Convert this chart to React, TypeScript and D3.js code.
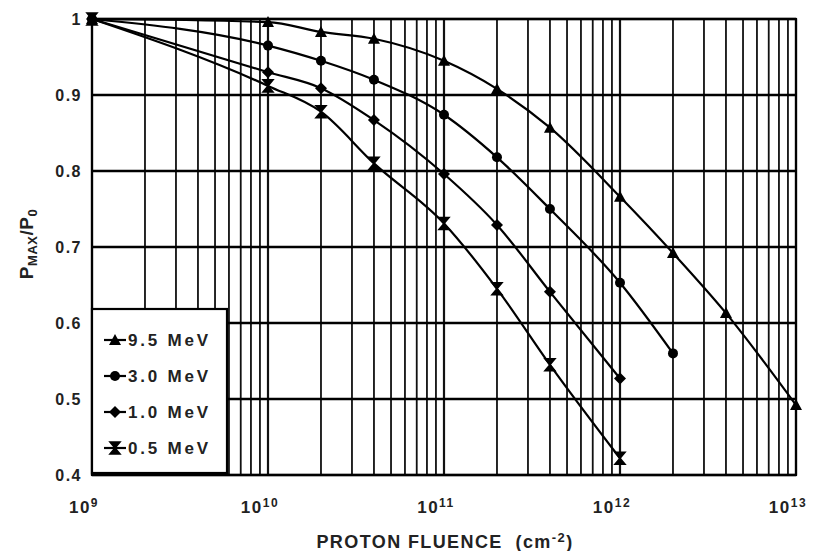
import * as d3 from "d3"

// proton fluence (cm-2) at which Pmax/P0 was measured
const fluence = [1e9, 1e10, 2e10, 4e10, 1e11, 2e11, 4e11, 1e12, 2e12, 4e12, 1e13]

const mev95 = [1.0, 0.996, 0.983, 0.974, 0.945, 0.908, 0.857, 0.766, 0.692, 0.613, 0.492]
const mev30 = [1.0, 0.965, 0.945, 0.92, 0.874, 0.818, 0.75, 0.653, 0.56]
const mev10 = [1.0, 0.93, 0.909, 0.867, 0.796, 0.729, 0.641, 0.527]
const mev05 = [1.0, 0.912, 0.878, 0.81, 0.731, 0.645, 0.545, 0.422]

const seriesNames = ["9.5 MeV", "3.0 MeV", "1.0 MeV", "0.5 MeV"]
const seriesValues = [mev95, mev30, mev10, mev05]
const markerKinds = ["triangle", "circle", "diamond", "hourglass"]

const yTicks = [0.4, 0.5, 0.6, 0.7, 0.8, 0.9, 1.0]
const xDecades = [9, 10, 11, 12, 13]

const W = 817
const H = 551
const left = 92
const right = 796
const top = 19
const bottom = 475

const font = "'Liberation Sans', Arial, sans-serif"

const Marker = ({ kind, x, y }: { kind: string; x: number; y: number }) => {
	if (kind === "circle") return <circle cx={x} cy={y} r={5} fill="#000" />
	if (kind === "triangle")
		return <path d={`M${x},${y - 6}L${x + 6},${y + 5}L${x - 6},${y + 5}Z`} fill="#000" />
	if (kind === "diamond")
		return <path d={`M${x},${y - 6}L${x + 6},${y}L${x},${y + 6}L${x - 6},${y}Z`} fill="#000" />
	// hourglass with bars top and bottom
	return (
		<g fill="#000" stroke="#000" strokeWidth={1.6}>
			<path d={`M${x - 5},${y - 6}L${x + 5},${y - 6}L${x},${y}Z`} />
			<path d={`M${x - 5},${y + 6}L${x + 5},${y + 6}L${x},${y}Z`} />
		</g>
	)
}

const App = () => {
	const x = d3.scaleLog().domain([1e9, 1e13]).range([left, right])
	const y = d3.scaleLinear().domain([0.4, 1.0]).range([bottom, top])

	// every 1..9 x 10^k line of the log grid
	const vLines: { v: number; major: boolean }[] = []
	for (let e = 9; e < 13; e++) {
		for (let m = 1; m <= 9; m++) vLines.push({ v: m * Math.pow(10, e), major: m === 1 })
	}
	vLines.push({ v: 1e13, major: true })

	const line = d3
		.line<[number, number]>()
		.x((d) => x(d[0]))
		.y((d) => y(d[1]))
		.curve(d3.curveMonotoneX)

	// legend box
	const lg = { x0: 92, y0: 309, x1: 227, y1: 473 }
	const legendY = [340, 376, 412, 448]

	return (
		<svg
			width={W}
			height={H}
			style={{ position: "absolute", left: 0, top: 0, background: "#fff" }}
			fontFamily={font}
		>
			<rect width={W} height={H} fill="#fff" />
			{/* grid */}
			{vLines.map((d, i) => (
				<line
					key={"v" + i}
					x1={x(d.v)}
					x2={x(d.v)}
					y1={top}
					y2={bottom}
					stroke="#111"
					strokeWidth={d.major ? 2.2 : 1.8}
				/>
			))}
			{yTicks.map((t) => (
				<line key={"h" + t} x1={left} x2={right} y1={y(t)} y2={y(t)} stroke="#000" strokeWidth={2.6} />
			))}
			<rect x={left} y={top} width={right - left} height={bottom - top} fill="none" stroke="#000" strokeWidth={2.2} />

			{/* curves */}
			{seriesValues.map((vals, i) => (
				<path
					key={"s" + i}
					d={line(vals.map((v, j) => [fluence[j], v] as [number, number])) || ""}
					fill="none"
					stroke="#000"
					strokeWidth={2.2}
				/>
			))}
			{seriesValues.map((vals, i) =>
				vals.map((v, j) => <Marker key={"m" + i + "-" + j} kind={markerKinds[i]} x={x(fluence[j])} y={y(v)} />)
			)}

			{/* legend */}
			<rect
				x={lg.x0}
				y={lg.y0}
				width={lg.x1 - lg.x0}
				height={lg.y1 - lg.y0}
				fill="#fff"
				stroke="#000"
				strokeWidth={2.2}
			/>
			{seriesNames.map((n, i) => (
				<g key={"l" + i}>
					<line x1={104} x2={126} y1={legendY[i]} y2={legendY[i]} stroke="#000" strokeWidth={2.2} />
					<Marker kind={markerKinds[i]} x={115} y={legendY[i]} />
					<text
						x={128}
						y={legendY[i] + 6}
						fontSize={17}
						fontWeight="bold"
						letterSpacing={2.8}
						fill="#222"
					>
						{n}
					</text>
				</g>
			))}

			{/* y tick labels */}
			{yTicks.map((t) => (
				<text
					key={"yt" + t}
					x={82}
					y={y(t) + 6}
					textAnchor="end"
					fontSize={16}
					fontWeight="bold"
					letterSpacing={1.5}
					fill="#222"
				>
					{t === 1 ? "1" : d3.format(".1f")(t)}
				</text>
			))}

			{/* x tick labels */}
			{xDecades.map((e) => (
				<text
					key={"xt" + e}
					x={x(Math.pow(10, e)) - 8}
					y={513}
					textAnchor="middle"
					fontSize={17}
					fontWeight="bold"
					letterSpacing={1.5}
					fill="#222"
				>
					10
					<tspan dy={-6} fontSize={12}>
						{e}
					</tspan>
				</text>
			))}

			{/* axis titles */}
			<text x={445} y={548} textAnchor="middle" fontSize={18} fontWeight="bold" letterSpacing={1.4} fill="#222">
				PROTON FLUENCE{"\u00a0\u00a0"}(cm
				<tspan dy={-6} fontSize={13}>
					-2
				</tspan>
				<tspan dy={6}>)</tspan>
			</text>
			<text
				transform="translate(33,244) rotate(-90)"
				textAnchor="middle"
				fontSize={19}
				fontWeight="bold"
				letterSpacing={0.5}
				fill="#222"
			>
				P
				<tspan dy={4} fontSize={13}>
					MAX
				</tspan>
				<tspan dy={-4}>/P</tspan>
				<tspan dy={4} fontSize={13}>
					0
				</tspan>
			</text>
		</svg>
	)
}

export default App
